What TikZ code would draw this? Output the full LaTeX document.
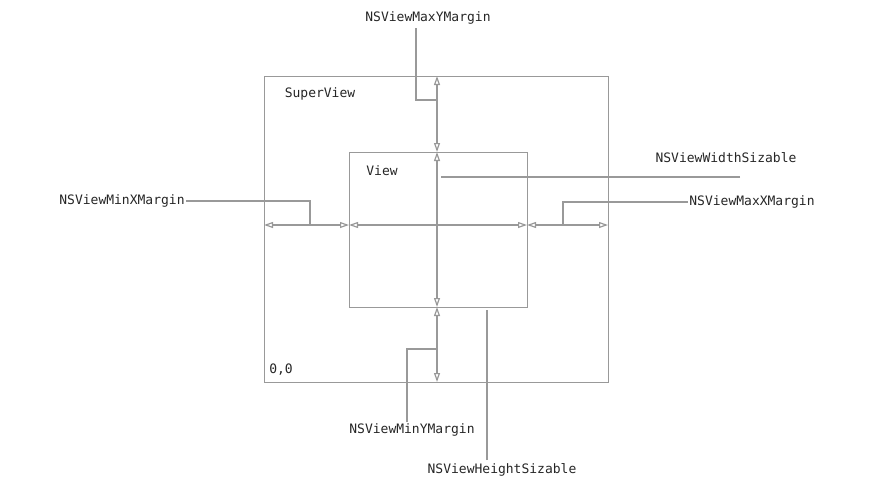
\documentclass[tikz,border=0pt]{standalone}
\usepackage{fontspec}
\setmonofont{DejaVu Sans Mono}
\usetikzlibrary{arrows.meta}
\begin{document}
\begin{tikzpicture}[x=1pt,y=-1pt,
  ln/.style={draw=black!40,line width=1.2pt},
  ar/.style={ln,{Triangle[open,length=9pt,width=6pt]}-{Triangle[open,length=9pt,width=6pt]}},
  lbl/.style={font=\fontsize{13}{15}\selectfont\ttfamily,text=black!85,inner sep=1pt}]
\useasboundingbox (0,0) rectangle (889,498);
\node[ln,minimum width=344pt,minimum height=306pt,anchor=north west,inner sep=0] (sv) at (264,76) {};
\node[ln,minimum width=178pt,minimum height=155pt,anchor=north west,inner sep=0] (v) at (349,152) {};
\node[lbl] (svl) at (320,94) {SuperView};
\node[lbl] (vl) at (382,171) {View};
\node[lbl] (o) at (281,370) {0,0};
\coordinate (t) at (437,76); \coordinate (vt) at (437,152);
\coordinate (vb) at (437,307); \coordinate (b) at (437,382);
\coordinate (l) at (264,225); \coordinate (vlft) at (349,225);
\coordinate (vr) at (527,225); \coordinate (r) at (608,225);
\draw[ar] (vt) -- (t);
\draw[ar] (vt) -- (vb);
\draw[ar] (vb) -- (b);
\draw[ar] (vlft) -- (l);
\draw[ar] (vlft) -- (vr);
\draw[ar] (vr) -- (r);
\node[lbl] (maxy) at (428,18) {NSViewMaxYMargin};
\node[lbl] (minx) at (122,201) {NSViewMinXMargin};
\node[lbl] (maxx) at (752,202) {NSViewMaxXMargin};
\node[lbl] (ws) at (726,158) {NSViewWidthSizable};
\node[lbl] (miny) at (412,430) {NSViewMinYMargin};
\node[lbl] (hs) at (502,470) {NSViewHeightSizable};
\draw[ln] (416,28) -- (416,100) -- (437,100);
\draw[ln] (minx.east) -- (310,201) -- (310,225);
\draw[ln] (maxx.west) -- (563,202) -- (563,225);
\draw[ln] (740,177) -- (441,177);
\draw[ln] (407,422) -- (407,349) -- (437,349);
\draw[ln] (487,460) -- (487,310);
\end{tikzpicture}
\end{document}
